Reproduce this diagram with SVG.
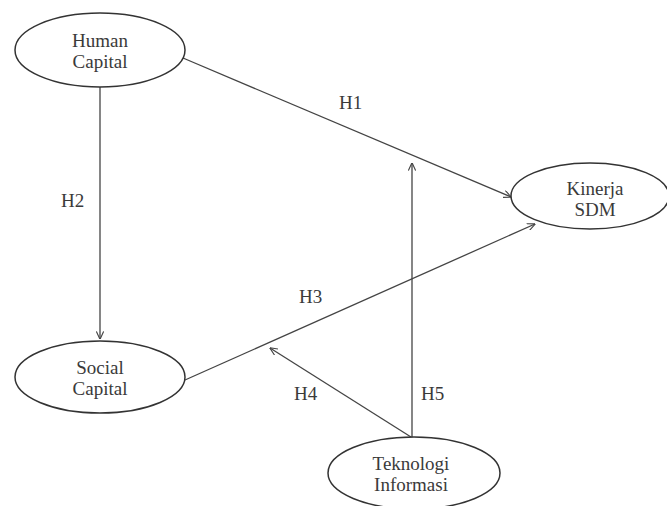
<svg xmlns="http://www.w3.org/2000/svg" width="667" height="506" viewBox="0 0 667 506">
<defs>
<style>
.node ellipse{fill:#fff;stroke:#333;stroke-width:1.5}
.node text{font-size:19px;fill:#3a3a3a;text-anchor:middle}
.lbl{font-size:19px;fill:#3a3a3a}
#edges line{stroke:#444;stroke-width:1.3;marker-end:url(#arr)}
</style>
<marker id="arr" viewBox="0 0 10 10" refX="9.5" refY="5" markerWidth="8" markerHeight="8" markerUnits="userSpaceOnUse" orient="auto">
<path d="M0,0.5 L10,5 L0,9.5" fill="none" stroke="#444" stroke-width="1.4"/>
</marker>
</defs>
<rect width="667" height="506" fill="#fff"/>
<g id="edges" font-family="'Liberation Serif', 'Times New Roman', serif">
<line x1="183" y1="58" x2="511" y2="197"/>
<line x1="100" y1="87" x2="100" y2="339"/>
<line x1="185" y1="380" x2="535" y2="224"/>
<line x1="411" y1="437" x2="270" y2="348"/>
<line x1="412" y1="437" x2="412" y2="163"/>
<text class="lbl" x="339" y="109">H1</text>
<text class="lbl" x="61" y="207">H2</text>
<text class="lbl" x="299" y="303">H3</text>
<text class="lbl" x="294" y="400">H4</text>
<text class="lbl" x="421" y="400">H5</text>
</g>
<g id="human-capital" class="node" font-family="'Liberation Serif', 'Times New Roman', serif">
<ellipse cx="100" cy="50" rx="85" ry="37"/>
<text x="100" y="47">Human</text>
<text x="100" y="68">Capital</text>
</g>
<g id="kinerja-sdm" class="node" font-family="'Liberation Serif', 'Times New Roman', serif">
<ellipse cx="590" cy="196" rx="79" ry="33"/>
<text x="595" y="195">Kinerja</text>
<text x="595" y="216">SDM</text>
</g>
<g id="social-capital" class="node" font-family="'Liberation Serif', 'Times New Roman', serif">
<ellipse cx="100" cy="377" rx="85" ry="36"/>
<text x="100" y="374">Social</text>
<text x="100" y="395">Capital</text>
</g>
<g id="teknologi-informasi" class="node" font-family="'Liberation Serif', 'Times New Roman', serif">
<ellipse cx="414" cy="473" rx="86" ry="36"/>
<text x="411" y="470">Teknologi</text>
<text x="411" y="491">Informasi</text>
</g>
</svg>
